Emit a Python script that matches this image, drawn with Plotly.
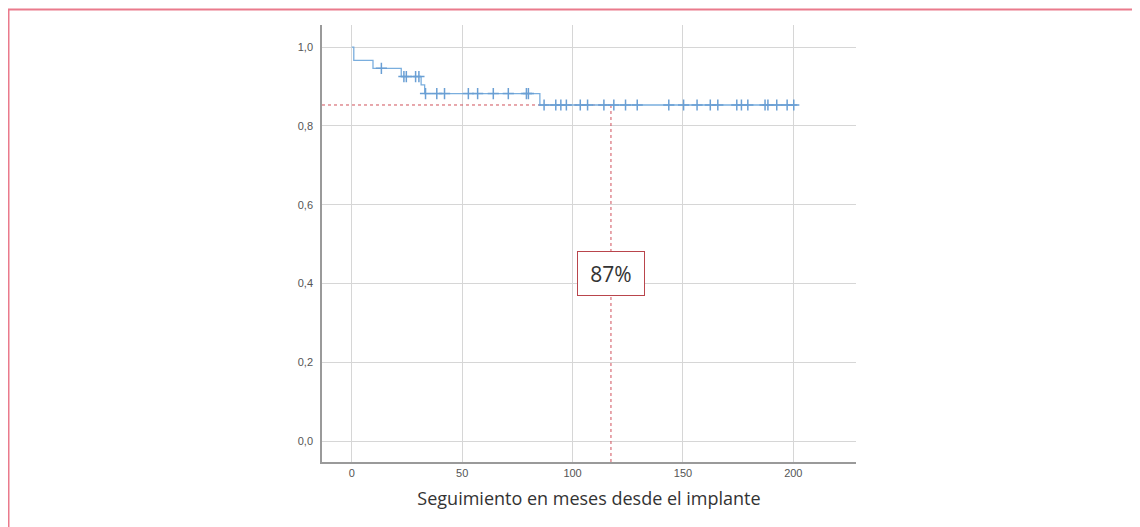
import plotly.graph_objects as go
import numpy as np

# Kaplan-Meier step data (months, survival)
event_times = [0, 0.9, 9.6, 22.4, 31.4, 33.0, 85.2, 201.8]
survival = [1.0, 0.966, 0.946, 0.925, 0.904, 0.882, 0.853, 0.853]

# Censored observations (months)
censor_times = [13.4, 23.6, 24.7, 28.9, 30.4, 33.4, 38.5, 42.0, 52.8, 57.0, 64.1,
                70.9, 79.1, 80.0, 87.1, 92.4, 94.7, 97.2, 103.5, 106.8, 114.2,
                118.7, 124.0, 129.3, 143.6, 150.3, 156.4, 162.4, 165.8, 174.4,
                176.5, 179.4, 187.2, 188.5, 192.5, 197.2, 200.2]

ref_time = 117.4
ref_surv = 0.853
label_text = "87%"
label_y = 0.426

x_ticks = [0, 50, 100, 150, 200]
y_ticks = [0.0, 0.2, 0.4, 0.6, 0.8, 1.0]
y_tick_labels = ["0,0", "0,2", "0,4", "0,6", "0,8", "1,0"]
x_title = "Seguimiento en meses desde el implante"

# survival at each censor time (step function lookup)
et = np.array(event_times)
sv = np.array(survival)
censor_surv = [float(sv[np.searchsorted(et, t, side="right") - 1]) for t in censor_times]

blue = "#7aaede"
red = "#d0505a"

# page offset of the figure inside the browser body (default 8px margin)
OFF = 8
W, H = 1140 - OFF, 527 - OFF
L, T, PW, PH = 322 - OFF, 25 - OFF, 534, 437

fig = go.Figure()

# reference dashed lines
fig.add_trace(go.Scatter(x=[-13.5, ref_time], y=[ref_surv, ref_surv], mode="lines",
                         line=dict(color=red, width=1, dash="dot"), hoverinfo="skip",
                         showlegend=False))
fig.add_trace(go.Scatter(x=[ref_time, ref_time], y=[ref_surv, -0.053], mode="lines",
                         line=dict(color=red, width=1, dash="dot"), hoverinfo="skip",
                         showlegend=False))

fig.add_trace(go.Scatter(x=event_times, y=survival, mode="lines",
                         line=dict(color=blue, width=1.3, shape="hv"),
                         showlegend=False))
fig.add_trace(go.Scatter(x=censor_times, y=censor_surv, mode="markers",
                         marker=dict(symbol="cross-thin", size=8,
                                     line=dict(color="#6a9fd4", width=1.5)),
                         showlegend=False))

fig.add_annotation(x=ref_time, y=label_y, text=label_text, showarrow=False,
                   font=dict(family="Open Sans, sans-serif", size=21, color="#333"),
                   bgcolor="white", bordercolor="#b9454c", borderwidth=1,
                   borderpad=7, width=52, height=29)

# outer page border (screen coords -> paper coords)
fig.add_shape(type="rect", xref="paper", yref="paper",
              x0=(8.5 - 322) / PW, x1=(1160 - 322) / PW,
              y0=(462 - 560) / PH, y1=(462 - 9.5) / PH,
              line=dict(color="#ea7a8c", width=2), layer="below")

fig.update_layout(
    width=W, height=H,
    margin=dict(l=L, r=W - L - PW, t=T, b=H - T - PH),
    paper_bgcolor="white", plot_bgcolor="white",
    font=dict(family="Liberation Sans, Arial, sans-serif"),
    xaxis=dict(range=[-13.5, 228.4], tickvals=x_ticks, showgrid=True,
               gridcolor="#d6d6d6", gridwidth=1, zeroline=False,
               showline=True, linecolor="#9a9a9a", linewidth=1.5,
               tickfont=dict(size=11, color="#555"), ticks="",
               title=dict(text=x_title, standoff=14,
                          font=dict(family="Open Sans, sans-serif", size=18, color="#333"))),
    yaxis=dict(range=[-0.053, 1.056], tickvals=y_ticks, ticktext=y_tick_labels,
               showgrid=True, gridcolor="#d6d6d6", gridwidth=1, zeroline=False,
               showline=True, linecolor="#9a9a9a", linewidth=1.5, ticks="",
               ticklabelstandoff=5,
               tickfont=dict(size=11, color="#555")),
)

fig.write_html("out.html")
